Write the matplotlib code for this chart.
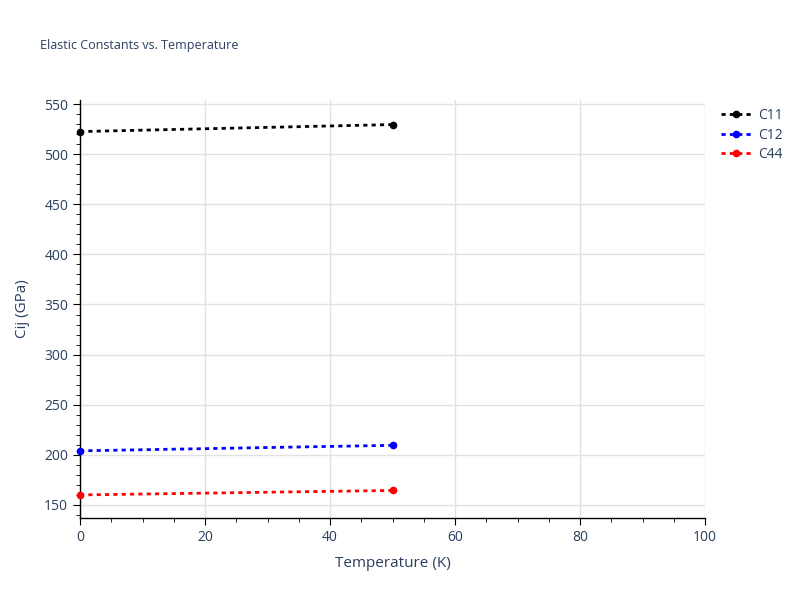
import matplotlib.pyplot as plt
from matplotlib.ticker import MultipleLocator

# data
temperature = [0, 50]
c11 = [522.5, 529.5]
c12 = [204.0, 209.5]
c44 = [160.0, 164.5]

series = [("C11", c11, "black"), ("C12", c12, "blue"), ("C44", c44, "red")]

plt.rcParams['font.family'] = ['Open Sans', 'DejaVu Sans']
text_col = "#2a3f5f"

fig = plt.figure(figsize=(8, 6), dpi=100)
ax = fig.add_axes([80 / 800, 1 - 518 / 600, 625 / 800, 418 / 600])

for name, vals, col in series:
    ax.plot(temperature, vals, linestyle=(0, (1.5, 1.5)), linewidth=2, color=col,
            marker="o", markersize=4.5, label=name, clip_on=False, zorder=3)

ax.set_xlim(0, 100)
ax.set_ylim(137, 554)
ax.xaxis.set_major_locator(MultipleLocator(20))
ax.xaxis.set_minor_locator(MultipleLocator(5))
ax.yaxis.set_major_locator(MultipleLocator(50))
ax.yaxis.set_minor_locator(MultipleLocator(10))

ax.grid(True, which="major", color="#e1e1e1", linewidth=1)
ax.set_axisbelow(True)
for s in ["top", "right"]:
    ax.spines[s].set_visible(False)
for s in ["left", "bottom"]:
    ax.spines[s].set_color("black")
    ax.spines[s].set_linewidth(1)

ax.tick_params(which="major", direction="out", length=5, color="black",
               labelsize=10, labelcolor=text_col)
ax.tick_params(which="minor", direction="out", length=3, color="black")

ax.set_xlabel("Temperature (K)", fontsize=11, color=text_col, labelpad=8)
ax.set_ylabel("Cij (GPa)", fontsize=11, color=text_col, labelpad=10)

fig.text(40 / 800, 1 - 45 / 600, "Elastic Constants vs. Temperature",
         fontsize=9, color=text_col, va="center")

ax.legend(loc="upper left", bbox_to_anchor=(1.005, 1.01), frameon=False,
          fontsize=10, labelcolor=text_col, handlelength=2.2, handletextpad=0.5,
          labelspacing=0.32)

fig.savefig("out.png", dpi=100)
